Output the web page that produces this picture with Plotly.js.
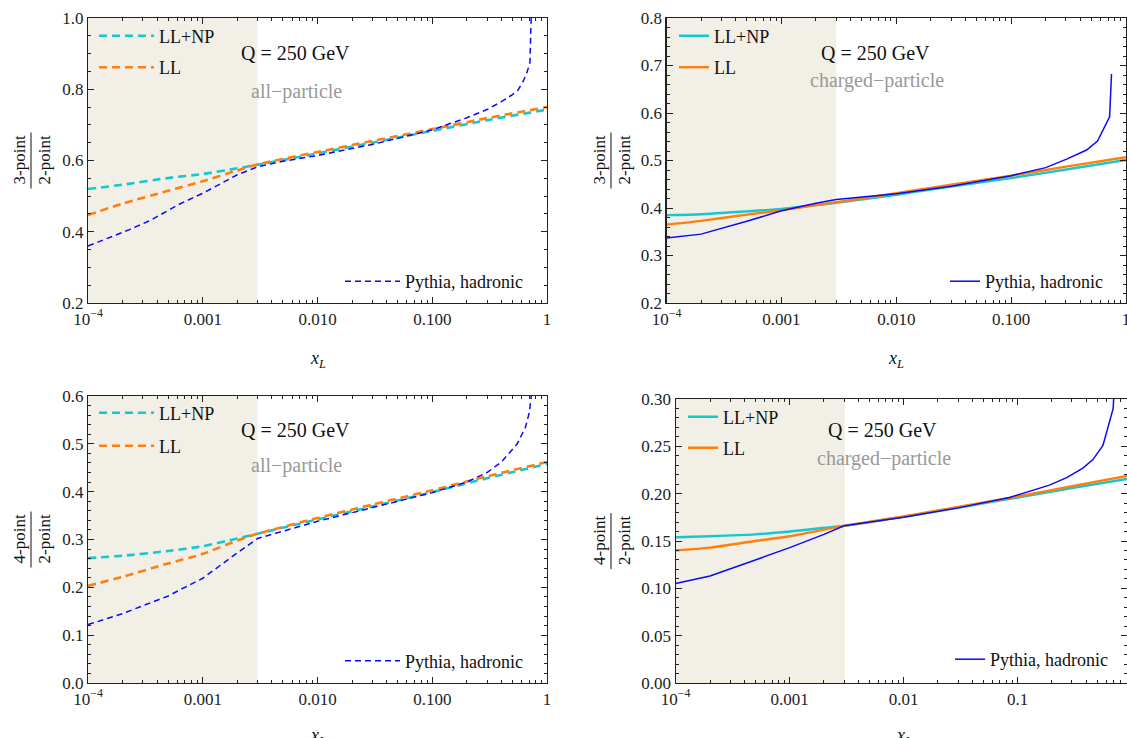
<!DOCTYPE html>
<html><head><meta charset="utf-8">
<script src="https://cdn.plot.ly/plotly-3.0.1.min.js"></script>
<style>html,body{margin:0;padding:0;background:#fff}#chart{width:1127px;height:738px}</style>
</head><body><div id="chart"></div>
<script>
// ---------------- DATA ----------------
const xTheory   = [1e-4, 2e-4, 5e-4, 1e-3, 2e-3, 3e-3, 1e-2, 3e-2, 0.1, 0.3, 1];
const xTheoryBR = [1e-4, 2e-4, 5e-4, 1e-3, 2e-3, 3e-3, 1e-2, 3e-2, 0.1, 0.3, 0.912];
const shadeX = [1e-4, 3e-3];

// Top-left: 3-point/2-point, all-particle
const tlLLNP = [0.520, 0.532, 0.551, 0.562, 0.578, 0.588, 0.620, 0.650, 0.683, 0.713, 0.743];
const tlLL   = [0.447, 0.479, 0.515, 0.542, 0.572, 0.589, 0.624, 0.655, 0.688, 0.719, 0.750];
const tlPyX  = [1e-4, 1.5e-4, 2.3e-4, 3.5e-4, 6.3e-4, 1e-3, 1.4e-3, 2e-3, 3e-3, 5e-3, 0.01, 0.03, 0.1, 0.2, 0.3, 0.4, 0.5, 0.56, 0.62, 0.67, 0.71, 0.72, 0.735];
const tlPy   = [0.360, 0.382, 0.406, 0.432, 0.478, 0.508, 0.534, 0.560, 0.582, 0.598, 0.614, 0.645, 0.686, 0.720, 0.743, 0.765, 0.785, 0.798, 0.822, 0.848, 0.875, 0.930, 1.050];

// Top-right: 3-point/2-point, charged-particle
const trLLNP = [0.385, 0.387, 0.393, 0.398, 0.406, 0.411, 0.428, 0.445, 0.463, 0.481, 0.501];
const trLL   = [0.365, 0.373, 0.386, 0.395, 0.406, 0.412, 0.431, 0.449, 0.468, 0.487, 0.507];
const trPyX  = [1e-4, 2e-4, 5e-4, 1e-3, 2e-3, 3e-3, 0.01, 0.03, 0.1, 0.2, 0.304, 0.454, 0.565, 0.72, 0.748];
const trPy   = [0.337, 0.345, 0.372, 0.394, 0.410, 0.418, 0.430, 0.446, 0.468, 0.485, 0.503, 0.522, 0.541, 0.592, 0.682];

// Bottom-left: 4-point/2-point, all-particle
const blLLNP = [0.261, 0.266, 0.276, 0.286, 0.302, 0.312, 0.342, 0.369, 0.399, 0.428, 0.458];
const blLL   = [0.203, 0.222, 0.250, 0.270, 0.298, 0.312, 0.345, 0.373, 0.403, 0.432, 0.462];
const blPyX  = [1e-4, 2e-4, 5e-4, 1e-3, 2e-3, 3e-3, 0.01, 0.03, 0.1, 0.2, 0.3, 0.4, 0.55, 0.65, 0.7, 0.73, 0.75];
const blPy   = [0.122, 0.145, 0.182, 0.219, 0.272, 0.302, 0.338, 0.366, 0.398, 0.420, 0.440, 0.462, 0.500, 0.535, 0.565, 0.600, 0.630];

// Bottom-right: 4-point/2-point, charged-particle
const brLLNP = [0.154, 0.155, 0.157, 0.160, 0.164, 0.166, 0.1756, 0.185, 0.196, 0.206, 0.2155];
const brLL   = [0.140, 0.143, 0.150, 0.155, 0.162, 0.166, 0.176, 0.186, 0.197, 0.208, 0.2187];
const brPyX  = [1e-4, 2e-4, 5e-4, 1e-3, 2e-3, 3e-3, 0.01, 0.03, 0.085, 0.19, 0.27, 0.374, 0.458, 0.561, 0.69, 0.71];
const brPy   = [0.105, 0.113, 0.130, 0.143, 0.157, 0.166, 0.175, 0.185, 0.196, 0.209, 0.217, 0.227, 0.236, 0.251, 0.290, 0.320];

// tick labels
const xTickVals  = [1e-4, 1e-3, 1e-2, 1e-1, 1];
const xTickText  = ['10<sup>\u22124</sup>', '0.001', '0.010', '0.100', '1'];
const xTickValsBR = [1e-4, 1e-3, 1e-2, 1e-1];
const xTickTextBR = ['10<sup>\u22124</sup>', '0.001', '0.01', '0.1'];
const yTicksTL = [0.2, 0.4, 0.6, 0.8, 1.0];
const yTicksTR = [0.2, 0.3, 0.4, 0.5, 0.6, 0.7, 0.8];
const yTicksBL = [0.0, 0.1, 0.2, 0.3, 0.4, 0.5, 0.6];
const yTicksBR = [0.00, 0.05, 0.10, 0.15, 0.20, 0.25, 0.30];

const seriesNames = ['LL+NP', 'LL', 'Pythia, hadronic'];

// ---------------- LAYOUT HELPERS ----------------
const W = 1127, H = 738;
const fx = p => p / W;
const fy = p => 1 - p / H;
const FONT = 'Liberation Serif, Times New Roman, serif';
const CYAN = 'rgb(22,200,205)', ORANGE = 'rgb(255,127,14)', BLUE = 'rgb(10,10,245)', SHADE = '#f2efe6';

const minorX = [];
for (let e = -4; e < 0; e++) for (let k = 2; k <= 9; k++) minorX.push(k * Math.pow(10, e));

function xAxis(domainPx, range, vals, text, anchor) {
  return {
    type: 'log', domain: [fx(domainPx[0]), fx(domainPx[1])], range: range, anchor: anchor,
    tickmode: 'array', tickvals: vals, ticktext: text, ticklabeloverflow: 'allow',
    ticks: 'inside', ticklen: 6, tickwidth: 1, tickcolor: '#222',
    minor: {tickmode: 'array', tickvals: minorX, ticks: 'inside', ticklen: 3, tickwidth: 1, tickcolor: '#222'},
    showline: true, linecolor: '#222', linewidth: 1.2, mirror: 'ticks',
    showgrid: false, zeroline: false,
    tickfont: {family: FONT, size: 17, color: '#222'}
  };
}
function yAxis(domainPx, range, vals, fmt, minorD, anchor) {
  return {
    domain: [fy(domainPx[1]), fy(domainPx[0])], range: range, anchor: anchor,
    tickmode: 'array', tickvals: vals, ticktext: vals.map(v => v.toFixed(fmt)), ticklabeloverflow: 'allow',
    ticks: 'inside', ticklen: 6, tickwidth: 1, tickcolor: '#222',
    minor: {tickmode: 'linear', tick0: 0, dtick: minorD, ticks: 'inside', ticklen: 3, tickwidth: 1, tickcolor: '#222'},
    showline: true, linecolor: '#222', linewidth: 1.2, mirror: 'ticks',
    showgrid: false, zeroline: false,
    tickfont: {family: FONT, size: 17, color: '#222'}
  };
}

// panels
const panels = [
  {xa: 'x',  ya: 'y',  xd: [88, 547],    yd: [18, 303],  xr: [-4, 0],     yr: [0.2, 1.0], yt: yTicksTL, fmt: 1, md: 0.05,
   xs: xTheory, llnp: tlLLNP, ll: tlLL, pyx: tlPyX, py: tlPy, dashed: true, num: '3-point', label: 'all\u2212particle',
   qx: 295, qy: 53, lx: 297, ly: 91, fracX: [19, 31, 44], xt: [318, 359], xv: xTickVals, xtx: xTickText,
   leg: [[100, 36], [100, 67.5], [346, 281.5]]},
  {xa: 'x2', ya: 'y2', xd: [666.5, 1126], yd: [18, 303],  xr: [-4, 0],     yr: [0.2, 0.8], yt: yTicksTR, fmt: 1, md: 0.02,
   xs: xTheory, llnp: trLLNP, ll: trLL, pyx: trPyX, py: trPy, dashed: false, num: '3-point', label: 'charged\u2212particle',
   qx: 875, qy: 53, lx: 877, ly: 81, fracX: [599, 611, 624], xt: [896, 359], xv: xTickVals, xtx: xTickText,
   leg: [[680, 36], [680, 67.5], [951, 281.5]]},
  {xa: 'x3', ya: 'y3', xd: [88, 547],    yd: [396, 683], xr: [-4, 0],     yr: [0.0, 0.6], yt: yTicksBL, fmt: 1, md: 0.02,
   xs: xTheory, llnp: blLLNP, ll: blLL, pyx: blPyX, py: blPy, dashed: true, num: '4-point', label: 'all\u2212particle',
   qx: 295, qy: 430, lx: 297, ly: 465, fracX: [19, 31, 44], xt: [318, 736], xv: xTickVals, xtx: xTickText,
   leg: [[100, 413], [100, 446], [346, 661]]},
  {xa: 'x4', ya: 'y4', xd: [675.7, 1127], yd: [399, 683], xr: [-4, -0.04], yr: [0.0, 0.3], yt: yTicksBR, fmt: 2, md: 0.01,
   xs: xTheoryBR, llnp: brLLNP, ll: brLL, pyx: brPyX, py: brPy, dashed: false, num: '4-point', label: 'charged\u2212particle',
   qx: 882, qy: 430, lx: 884, ly: 458, fracX: [599, 611, 624], xt: [904, 736], xv: xTickValsBR, xtx: xTickTextBR,
   leg: [[689, 417], [689, 448], [956, 659.5]]}
];

const traces = [];
const layout = {
  width: W, height: H, margin: {l: 0, r: 0, t: 0, b: 0},
  paper_bgcolor: '#fff', plot_bgcolor: '#fff', showlegend: true,
  font: {family: FONT, color: '#222'},
  annotations: [], shapes: []
};

let legN = 1;
panels.forEach((p, i) => {
  const n = i === 0 ? '' : String(i + 1);
  layout['xaxis' + n] = xAxis(p.xd, p.xr, p.xv, p.xtx, p.ya);
  layout['yaxis' + n] = yAxis(p.yd, p.yr, p.yt, p.fmt, p.md, p.xa);

  // shaded region
  traces.push({
    x: [shadeX[0], shadeX[1], shadeX[1], shadeX[0]], y: [p.yr[0], p.yr[0], p.yr[1], p.yr[1]],
    xaxis: p.xa, yaxis: p.ya, mode: 'lines', fill: 'toself', fillcolor: SHADE,
    line: {width: i === 3 ? 0.8 : 0, color: i === 3 ? '#ece6c4' : SHADE}, hoverinfo: 'skip', showlegend: false
  });

  const series = [
    {x: p.xs, y: p.llnp, color: CYAN, w: p.dashed ? 2.6 : 2.4, dash: p.dashed ? '8px,5px' : 'solid', shape: 'spline'},
    {x: p.xs, y: p.ll, color: ORANGE, w: p.dashed ? 2.6 : 2.4, dash: p.dashed ? '8px,5px' : 'solid', shape: 'spline'},
    {x: p.pyx, y: p.py, color: BLUE, w: 1.5, dash: p.dashed ? '6px,4px' : 'solid', shape: 'linear'}
  ];
  series.forEach((s, k) => {
    const legId = legN === 1 ? 'legend' : 'legend' + legN;
    traces.push({
      x: s.x, y: s.y, xaxis: p.xa, yaxis: p.ya, mode: 'lines', name: seriesNames[k],
      line: {color: s.color, width: s.w, dash: s.dash, shape: s.shape, smoothing: 0.6},
      legend: legId, showlegend: true
    });
    const [sx, sy] = p.leg[k];
    layout[legId] = {
      x: fx(sx - 6), y: fy(sy), xanchor: 'left', yanchor: 'middle',
      bgcolor: 'rgba(0,0,0,0)', borderwidth: 0, itemwidth: p.dashed ? 55 : 30,
      font: {family: FONT, size: 18, color: '#111'}, itemclick: false, itemdoubleclick: false
    };
    legN++;
  });

  // Q and particle label
  layout.annotations.push({xref: 'paper', yref: 'paper', x: fx(p.qx), y: fy(p.qy), xanchor: 'center', yanchor: 'middle',
    text: 'Q\u00a0=\u00a0250\u00a0GeV', showarrow: false, font: {family: FONT, size: 20, color: '#111'}});
  layout.annotations.push({xref: 'paper', yref: 'paper', x: fx(p.lx), y: fy(p.ly), xanchor: 'center', yanchor: 'middle',
    text: p.label, showarrow: false, font: {family: FONT, size: 20, color: '#999'}});

  // y-axis fraction label
  const cy = (p.yd[0] + p.yd[1]) / 2;
  layout.annotations.push({xref: 'paper', yref: 'paper', x: fx(p.fracX[0]), y: fy(cy), xanchor: 'center', yanchor: 'middle',
    text: p.num, textangle: -90, showarrow: false, font: {family: FONT, size: 17, color: '#111'}});
  layout.annotations.push({xref: 'paper', yref: 'paper', x: fx(p.fracX[2]), y: fy(cy), xanchor: 'center', yanchor: 'middle',
    text: '2-point', textangle: -90, showarrow: false, font: {family: FONT, size: 17, color: '#111'}});
  layout.shapes.push({type: 'line', xref: 'paper', yref: 'paper', x0: fx(p.fracX[1]), x1: fx(p.fracX[1]),
    y0: fy(cy - 28), y1: fy(cy + 28), line: {color: '#111', width: 1}});

  // x-axis title
  layout.annotations.push({xref: 'paper', yref: 'paper', x: fx(p.xt[0]), y: fy(p.xt[1]), xanchor: 'center', yanchor: 'middle',
    text: '<i>x</i><sub><i>L</i></sub>', showarrow: false, font: {family: FONT, size: 18, color: '#111'}});
});

Plotly.newPlot('chart', traces, layout, {displayModeBar: false, staticPlot: true});
</script>
</body></html>
